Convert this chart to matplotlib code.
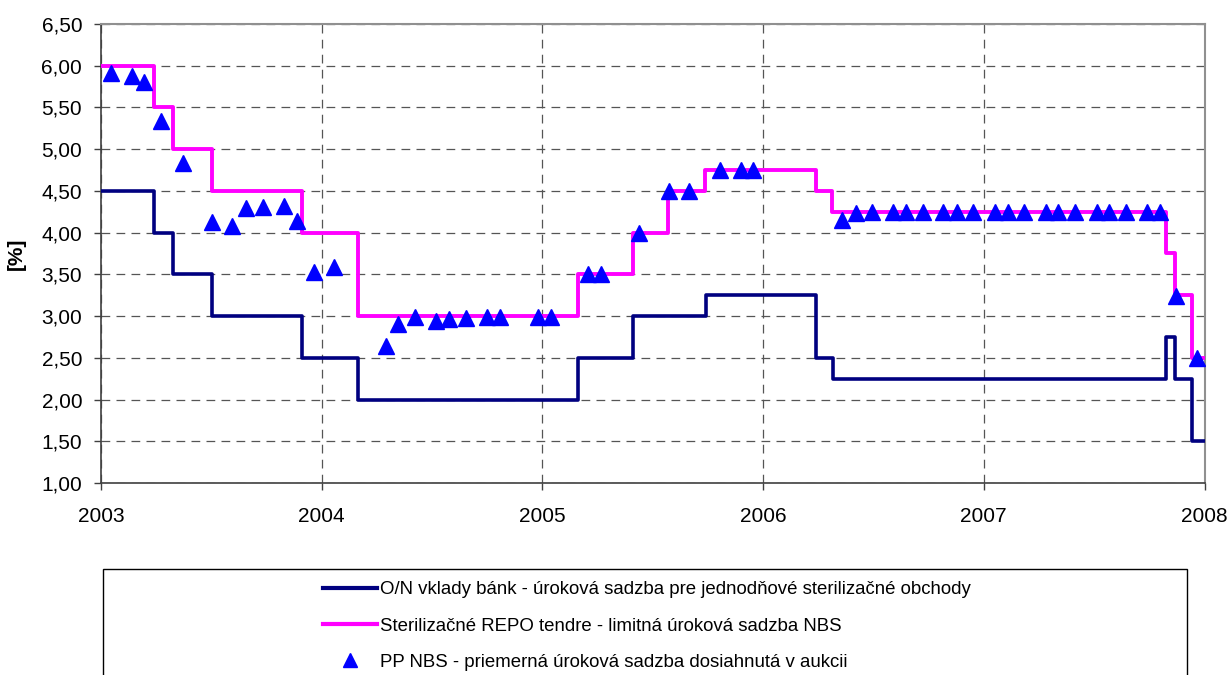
import numpy as np
import matplotlib.pyplot as plt
from matplotlib.lines import Line2D
from matplotlib.patches import Rectangle
from matplotlib.ticker import FuncFormatter

plt.rcParams['font.family'] = ['Liberation Sans', 'DejaVu Sans']

# O/N vklady bank - step changes (fractional years)
on_dates = [2003.0, 2003.2415, 2003.324, 2003.5015, 2003.912, 2004.166, 2005.160,
            2005.410, 2005.740, 2006.238, 2006.315, 2007.826, 2007.866, 2007.942, 2008.0]
on_rates = [4.50, 4.00, 3.50, 3.00, 2.50, 2.00, 2.50,
            3.00, 3.25, 2.50, 2.25, 2.75, 2.25, 1.50, 1.50]

# Sterilizacne REPO tendre - limitna sadzba
repo_dates = [2003.0, 2003.2415, 2003.324, 2003.5015, 2003.912, 2004.166, 2005.160,
              2005.409, 2005.567, 2005.737, 2006.238, 2006.314, 2007.824, 2007.866,
              2007.945, 2008.0]
repo_rates = [6.00, 5.50, 5.00, 4.50, 4.00, 3.00, 3.50,
              4.00, 4.50, 4.75, 4.50, 4.25, 3.75, 3.25,
              2.50, 2.50]

# PP NBS - priemerna sadzba v aukcii
pp_dates = [2003.044, 2003.139, 2003.196, 2003.270, 2003.370, 2003.504, 2003.595,
            2003.657, 2003.733, 2003.829, 2003.887, 2003.964, 2004.057, 2004.290,
            2004.347, 2004.423, 2004.518, 2004.578, 2004.654, 2004.748, 2004.808,
            2004.979, 2005.038, 2005.208, 2005.266, 2005.438, 2005.574, 2005.664,
            2005.805, 2005.900, 2005.956, 2006.359, 2006.420, 2006.495, 2006.590,
            2006.648, 2006.723, 2006.817, 2006.877, 2006.953, 2007.051, 2007.111,
            2007.184, 2007.280, 2007.338, 2007.413, 2007.511, 2007.567, 2007.644,
            2007.738, 2007.798, 2007.870, 2007.966]
pp_rates = [5.91, 5.88, 5.80, 5.34, 4.84, 4.13, 4.08,
            4.30, 4.31, 4.32, 4.14, 3.53, 3.59, 2.64,
            2.91, 2.99, 2.94, 2.97, 2.98, 2.99, 2.99,
            2.99, 2.99, 3.50, 3.50, 4.00, 4.50, 4.50,
            4.75, 4.75, 4.75, 4.15, 4.23, 4.25, 4.25,
            4.25, 4.25, 4.25, 4.25, 4.25, 4.25, 4.25,
            4.25, 4.25, 4.25, 4.25, 4.25, 4.25, 4.25,
            4.25, 4.25, 3.24, 2.50]

years = [2003, 2004, 2005, 2006, 2007, 2008]
yticks = np.arange(1.0, 6.51, 0.5)

labels = ['O/N vklady bánk - úroková sadzba pre jednodňové sterilizačné obchody',
          'Sterilizačné REPO tendre - limitná úroková sadzba NBS',
          'PP NBS - priemerná úroková sadzba dosiahnutá v aukcii']

fig = plt.figure(figsize=(12.31, 6.75), dpi=100)
ax = fig.add_axes([101 / 1231, 1 - 483 / 675, 1103.5 / 1231, 459 / 675])

ax.step(on_dates, on_rates, where='post', color='#000080', lw=2.6, zorder=3)
ax.step(repo_dates, repo_rates, where='post', color='#FF00FF', lw=2.8, zorder=3)
ax.plot(pp_dates, pp_rates, ls='none', marker='^', ms=11, color='#0000FF',
        mec='#0000FF', zorder=4)

ax.set_xlim(2003, 2008)
ax.set_ylim(1.0, 6.5)
ax.set_xticks(years)
ax.set_yticks(yticks)
ax.yaxis.set_major_formatter(FuncFormatter(lambda v, p: f'{v:.2f}'.replace('.', ',')))
ax.tick_params(axis='both', labelsize=15, length=5, width=1, color='#404040', direction='out')
ax.tick_params(axis='x', pad=12)
ax.tick_params(axis='y', pad=8.5)

ax.grid(True, color='#555555', lw=0.9, ls=(0, (7, 5)))
ax.set_axisbelow(True)

for s in ['left', 'bottom']:
    ax.spines[s].set_color('#404040')
    ax.spines[s].set_linewidth(1.2)
for s in ['top', 'right']:
    ax.spines[s].set_color('#909090')
    ax.spines[s].set_linewidth(1.5)

ax.set_ylabel('[%]', fontsize=15, fontweight='bold', labelpad=11)

# legend frame running off the bottom of the figure
fig.add_artist(Rectangle((103 / 1231, -0.1), 1084 / 1231, 0.1 + 1 - 569 / 675,
                         transform=fig.transFigure, fill=False, edgecolor='black', lw=1))

handles = [Line2D([], [], color='#000080', lw=3),
           Line2D([], [], color='#FF00FF', lw=3),
           Line2D([], [], ls='none', marker='^', ms=10, color='#0000FF')]
fig.legend(handles, labels, loc='center left', bbox_to_anchor=(323 / 1231, 1 - 626 / 675),
           frameon=False, fontsize=13.4, handlelength=2.9, handletextpad=0.16,
           labelspacing=1.03, borderpad=0, borderaxespad=0)

fig.savefig('out.png', dpi=100)
